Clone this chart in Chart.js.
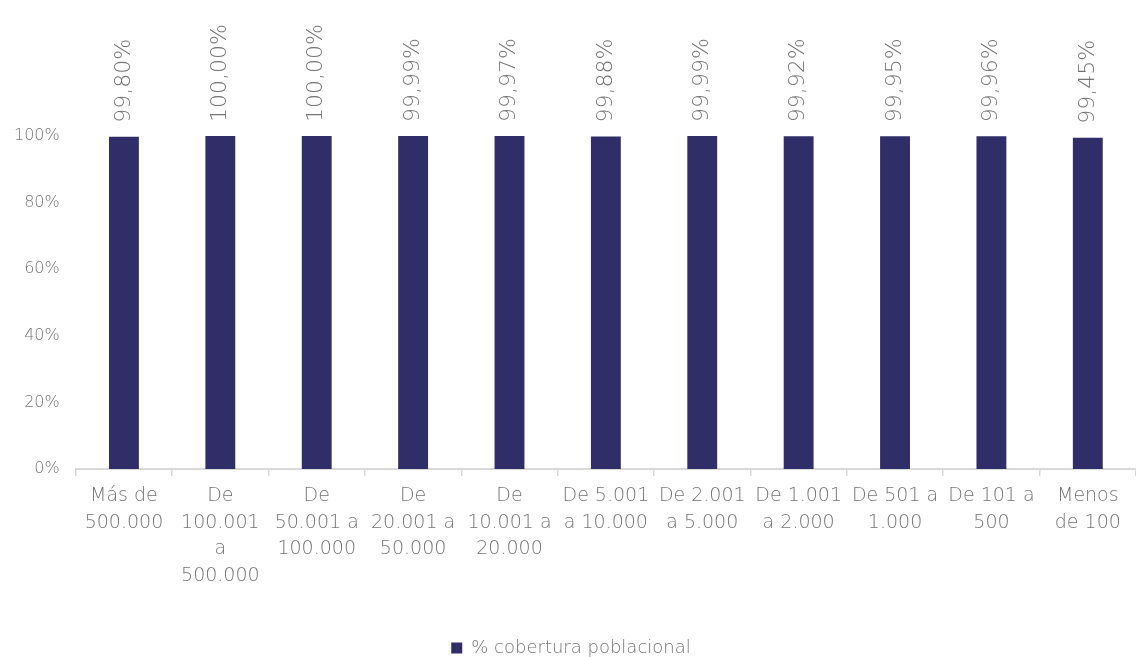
<!DOCTYPE html>
<html>
<head>
<meta charset="utf-8">
<script src="https://cdn.jsdelivr.net/npm/chart.js@4.4.0/dist/chart.umd.min.js"></script>
<style>
  html, body { margin: 0; padding: 0; background: #fff; overflow: hidden; }
  #wrap { width: 1136px; height: 657px; position: relative; }
</style>
</head>
<body>
<div id="wrap"><canvas id="chart_cov"></canvas></div>
<script>
// datos
const categories = [
  ["Más de", "500.000"],
  ["De", "100.001", "a", "500.000"],
  ["De", "50.001 a", "100.000"],
  ["De", "20.001 a", "50.000"],
  ["De", "10.001 a", "20.000"],
  ["De 5.001", "a 10.000"],
  ["De 2.001", "a 5.000"],
  ["De 1.001", "a 2.000"],
  ["De 501 a", "1.000"],
  ["De 101 a", "500"],
  ["Menos", "de 100"]
];
const coverage = [99.80, 100.00, 100.00, 99.99, 99.97, 99.88, 99.99, 99.92, 99.95, 99.96, 99.45];
const yTicks = [0, 20, 40, 60, 80, 100];
const seriesName = "% cobertura poblacional";

const FONT = '"DejaVu Sans", sans-serif';
const GREY = "#747474";
const BAR = "#2f2e69";

function fmt(v) {
  return v.toFixed(2).replace(".", ",") + "%";
}

// etiquetas giradas encima de cada barra
const valueLabels = {
  id: "valueLabels",
  afterDatasetsDraw(chart) {
    const ctx = chart.ctx;
    const meta = chart.getDatasetMeta(0);
    ctx.save();
    ctx.font = "200 22px " + FONT;
    ctx.fillStyle = GREY;
    ctx.textAlign = "left";
    ctx.textBaseline = "middle";
    meta.data.forEach((bar, i) => {
      ctx.save();
      ctx.translate(bar.x, bar.y - 14);
      ctx.rotate(-Math.PI / 2);
      ctx.fillText(fmt(coverage[i]), 0, 0);
      ctx.restore();
    });
    ctx.restore();
  }
};

// leyenda pegada al borde inferior
const legendLow = {
  id: "legendLow",
  beforeInit(chart) {
    const fit = chart.legend.fit;
    chart.legend.fit = function () {
      fit.bind(chart.legend)();
      this.height = 20;
    };
  }
};

const ctx = document.getElementById("chart_cov").getContext("2d");
new Chart(ctx, {
  type: "bar",
  data: {
    labels: categories,
    datasets: [{
      label: seriesName,
      data: coverage,
      backgroundColor: BAR,
      borderWidth: 0,
      barPercentage: 0.62,
      categoryPercentage: 0.5
    }]
  },
  options: {
    responsive: true,
    maintainAspectRatio: false,
    animation: false,
    layout: { padding: { top: 136, left: 6, right: 0, bottom: 0 } },
    plugins: {
      tooltip: { enabled: false },
      legend: {
        position: "bottom",
        labels: {
          boxWidth: 11,
          boxHeight: 11,
          padding: 2,
          color: GREY,
          font: { family: FONT, size: 18, weight: 200 }
        }
      }
    },
    scales: {
      x: {
        offset: true,
        grid: {
          display: true,
          drawOnChartArea: false,
          drawTicks: true,
          tickLength: 7,
          color: "#d9d9d9",
          lineWidth: 1.5
        },
        border: { display: true, color: "#d9d9d9", width: 2 },
        ticks: {
          color: GREY,
          padding: 7,
          maxRotation: 0,
          autoSkip: false,
          font: { family: FONT, size: 19, weight: 200, lineHeight: 1.4 }
        },
        afterFit(scale) { scale.height = 168; }
      },
      y: {
        min: 0,
        max: 100,
        grid: { display: false },
        border: { display: false },
        afterBuildTicks(scale) { scale.ticks = yTicks.map(v => ({ value: v })); },
        ticks: {
          color: GREY,
          padding: 8,
          font: { family: FONT, size: 16, weight: 200 },
          callback: v => v + "%"
        }
      }
    }
  },
  plugins: [valueLabels, legendLow]
});
</script>
</body>
</html>
